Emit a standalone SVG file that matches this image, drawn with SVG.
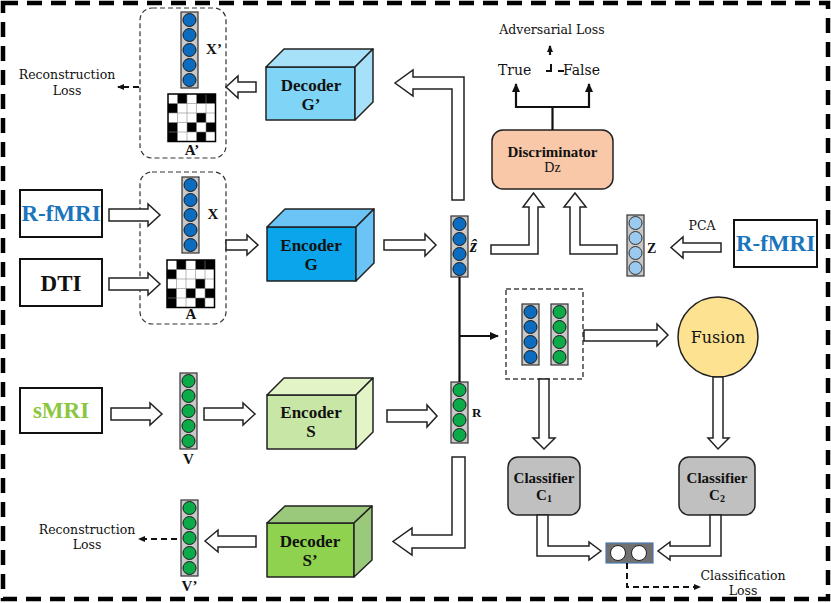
<svg xmlns="http://www.w3.org/2000/svg" width="831" height="603" viewBox="0 0 831 603">
<defs>
<marker id="ah" markerWidth="9" markerHeight="9" refX="8" refY="4.5" orient="auto" markerUnits="userSpaceOnUse"><path d="M0,0.5 L9,4.5 L0,8.5 z" fill="#111"/></marker>
<marker id="ahs" markerWidth="7" markerHeight="7" refX="6" refY="3.5" orient="auto" markerUnits="userSpaceOnUse"><path d="M0,0.5 L7,3.5 L0,6.5 z" fill="#111"/></marker>
<g id="mat">
<rect x="0" y="0" width="47.5" height="47.5" fill="#fff"/>
<g fill="#000">
<rect x="9.5" y="0" width="9.5" height="9.5"/><rect x="28.5" y="0" width="9.5" height="9.5"/><rect x="38" y="0" width="9.5" height="9.5"/>
<rect x="0" y="9.5" width="9.5" height="9.5"/>
<rect x="28.5" y="19" width="9.5" height="9.5"/>
<rect x="0" y="28.5" width="9.5" height="9.5"/><rect x="19" y="28.5" width="9.5" height="9.5"/><rect x="38" y="28.5" width="9.5" height="9.5"/>
<rect x="0" y="38" width="9.5" height="9.5"/><rect x="28.5" y="38" width="9.5" height="9.5"/>
</g>
<path d="M9.5,0V47.5M19,0V47.5M28.5,0V47.5M38,0V47.5M0,9.5H47.5M0,19H47.5M0,28.5H47.5M0,38H47.5" stroke="#888" stroke-width="0.6"/>
<rect x="0" y="0" width="47.5" height="47.5" fill="none" stroke="#000" stroke-width="1.5"/>
</g>
</defs>
<style>
.hollow{fill:#fff;stroke:#222;stroke-width:1.5}
.col{fill:#c8c8c8;stroke:#333;stroke-width:1.2}
.cb{fill:#0b6cc0;stroke:#1a1a1a;stroke-width:1}
.cg{fill:#0aab48;stroke:#1a1a1a;stroke-width:1}
.cl{fill:#9ccaee;stroke:#333;stroke-width:1}
.lbl{font-family:"Liberation Serif",serif;font-weight:bold;font-size:17px;text-anchor:middle;fill:#111}
.reg{font-family:"DejaVu Serif",serif;font-size:12.5px;fill:#111;text-anchor:middle}
.tag{font-family:"Liberation Serif",serif;font-weight:bold;font-size:15px;fill:#111;text-anchor:middle}
.src{font-family:"Liberation Serif",serif;font-weight:bold;font-size:23px;text-anchor:middle}
.dbox{fill:none;stroke:#333;stroke-width:1.2;stroke-dasharray:5 3}
.edge{fill:none;stroke:#111;stroke-width:2.2}
.dash{fill:none;stroke:#111;stroke-width:2;stroke-dasharray:6 4}
.cube{stroke:#222;stroke-width:1.5;stroke-linejoin:round}
</style>

<rect x="3" y="3" width="825" height="596" fill="none" stroke="#000" stroke-width="4.5" stroke-dasharray="15 9"/>

<g id="recloss-top">
<text class="reg" x="67" y="79">Reconstruction</text>
<text class="reg" x="67" y="95">Loss</text>
</g>

<g id="recon-box">
<rect class="dbox" x="140" y="8" width="86" height="150" rx="12"/>
<rect class="col" x="181" y="12" width="17" height="76"/>
<circle class="cb" cx="189.5" cy="20" r="6.5"/><circle class="cb" cx="189.5" cy="35" r="6.5"/><circle class="cb" cx="189.5" cy="50" r="6.5"/><circle class="cb" cx="189.5" cy="65" r="6.5"/><circle class="cb" cx="189.5" cy="80" r="6.5"/>
<text class="tag" x="214" y="54">X’</text>
<use href="#mat" x="168" y="94"/>
<text class="tag" x="192" y="155">A’</text>
</g>

<g id="input-box">
<rect class="dbox" x="140" y="172" width="86" height="152" rx="12"/>
<rect class="col" x="182" y="177" width="17" height="76"/>
<circle class="cb" cx="190.5" cy="185" r="6.5"/><circle class="cb" cx="190.5" cy="200" r="6.5"/><circle class="cb" cx="190.5" cy="215" r="6.5"/><circle class="cb" cx="190.5" cy="230" r="6.5"/><circle class="cb" cx="190.5" cy="245" r="6.5"/>
<text class="tag" x="213" y="219">X</text>
<use href="#mat" x="167" y="260"/>
<text class="tag" x="191" y="319">A</text>
</g>

<g id="rfmri-left">
<rect x="20" y="190" width="82" height="47" fill="#fff" stroke="#111" stroke-width="2"/>
<text class="src" x="61" y="221" fill="#1b75bc">R-fMRI</text>
</g>
<g id="dti">
<rect x="20" y="259" width="82" height="47" fill="#fff" stroke="#111" stroke-width="2"/>
<text class="src" x="61" y="291" fill="#111">DTI</text>
</g>
<g id="smri">
<rect x="20" y="388" width="82" height="45" fill="#fff" stroke="#111" stroke-width="2"/>
<text class="src" x="61" y="418" fill="#8cc63f">sMRI</text>
</g>

<g id="decoder-g">
<rect class="cube" x="266" y="67" width="89" height="53" fill="#80d4f6"/>
<path class="cube" d="M266,67 L284,49 L373,49 L355,67 Z" fill="#a6e1f9"/>
<path class="cube" d="M355,67 L373,49 L373,102 L355,120 Z" fill="#a6e1f9"/>
<text class="lbl" x="311" y="91">Decoder</text>
<text class="lbl" x="311" y="110">G’</text>
</g>

<g id="encoder-g">
<rect class="cube" x="267" y="227" width="89" height="54" fill="#0aa5ea"/>
<path class="cube" d="M267,227 L285,209 L374,209 L356,227 Z" fill="#6cc3f5"/>
<path class="cube" d="M356,227 L374,209 L374,263 L356,281 Z" fill="#6cc3f5"/>
<text class="lbl" x="311" y="251">Encoder</text>
<text class="lbl" x="311" y="270">G</text>
</g>

<g id="encoder-s">
<rect class="cube" x="267" y="395" width="89" height="54" fill="#c8e6a5"/>
<path class="cube" d="M267,395 L284,378 L373,378 L356,395 Z" fill="#e3f5c6"/>
<path class="cube" d="M356,395 L373,378 L373,432 L356,449 Z" fill="#e3f5c6"/>
<text class="lbl" x="311" y="418">Encoder</text>
<text class="lbl" x="311" y="437">S</text>
</g>

<g id="decoder-s">
<rect class="cube" x="267" y="523" width="87" height="54" fill="#8fd24f"/>
<path class="cube" d="M267,523 L285,506 L372,506 L354,523 Z" fill="#9bc97c"/>
<path class="cube" d="M354,523 L372,506 L372,560 L354,577 Z" fill="#9bc97c"/>
<text class="lbl" x="310" y="547">Decoder</text>
<text class="lbl" x="310" y="566">S’</text>
</g>

<g id="v">
<rect class="col" x="180" y="373" width="17" height="76"/>
<circle class="cg" cx="188.5" cy="381" r="6.5"/><circle class="cg" cx="188.5" cy="396" r="6.5"/><circle class="cg" cx="188.5" cy="411" r="6.5"/><circle class="cg" cx="188.5" cy="426" r="6.5"/><circle class="cg" cx="188.5" cy="441" r="6.5"/>
<text class="tag" x="188.5" y="464" font-size="13">V</text>
</g>

<g id="v-prime">
<rect class="col" x="181" y="500" width="17" height="76"/>
<circle class="cg" cx="189.5" cy="508" r="6.5"/><circle class="cg" cx="189.5" cy="523" r="6.5"/><circle class="cg" cx="189.5" cy="538" r="6.5"/><circle class="cg" cx="189.5" cy="553" r="6.5"/><circle class="cg" cx="189.5" cy="568" r="6.5"/>
<text class="tag" x="189.5" y="591" font-size="13">V’</text>
</g>

<g id="recloss-bottom">
<text class="reg" x="87" y="534">Reconstruction</text>
<text class="reg" x="87" y="549">Loss</text>
</g>

<g id="z-hat">
<rect class="col" x="451" y="216" width="17" height="61"/>
<circle class="cb" cx="459.5" cy="224" r="6.5"/><circle class="cb" cx="459.5" cy="239" r="6.5"/><circle class="cb" cx="459.5" cy="254" r="6.5"/><circle class="cb" cx="459.5" cy="269" r="6.5"/>
<text x="470" y="252" font-family="Liberation Serif, serif" font-weight="bold" font-style="italic" font-size="18" fill="#111">ẑ</text>
</g>

<g id="r">
<rect class="col" x="451" y="382" width="17" height="61"/>
<circle class="cg" cx="459.5" cy="390" r="6.5"/><circle class="cg" cx="459.5" cy="405" r="6.5"/><circle class="cg" cx="459.5" cy="420" r="6.5"/><circle class="cg" cx="459.5" cy="435" r="6.5"/>
<text x="472" y="417" font-family="Liberation Serif, serif" font-weight="bold" font-size="13" fill="#111">R</text>
</g>

<g id="z">
<rect class="col" x="627" y="215" width="17" height="61"/>
<circle class="cl" cx="635.5" cy="223" r="6.5"/><circle class="cl" cx="635.5" cy="238" r="6.5"/><circle class="cl" cx="635.5" cy="253" r="6.5"/><circle class="cl" cx="635.5" cy="268" r="6.5"/>
<text x="647" y="253" font-family="Liberation Serif, serif" font-weight="bold" font-size="14" fill="#111">Z</text>
</g>

<g id="rfmri-right">
<rect x="734" y="220" width="83" height="47" fill="#fff" stroke="#111" stroke-width="2"/>
<text class="src" x="775.5" y="251" fill="#1b75bc">R-fMRI</text>
</g>
<text class="reg" x="702" y="230" font-size="14">PCA</text>

<g id="discriminator">
<rect x="492" y="130" width="121" height="59" rx="11" fill="#f8c8a8" stroke="#222" stroke-width="1.5"/>
<text class="tag" x="552.5" y="157">Discriminator</text>
<text x="552.5" y="172" font-family="Liberation Serif, serif" font-size="14" text-anchor="middle" fill="#111">Dz</text>
</g>

<g id="adversarial">
<text class="reg" x="552" y="34">Adversarial  Loss</text>
<text x="498" y="75" font-family="DejaVu Serif, serif" font-size="14" fill="#111">True</text>
<text x="563" y="75" font-family="DejaVu Serif, serif" font-size="14" fill="#111">False</text>
</g>

<g id="concat">
<rect x="506" y="289" width="77" height="90" fill="none" stroke="#444" stroke-width="1.5" stroke-dasharray="5 3"/>
<rect class="col" x="522" y="304" width="17" height="61"/>
<circle class="cb" cx="530.5" cy="312" r="6.5"/><circle class="cb" cx="530.5" cy="327" r="6.5"/><circle class="cb" cx="530.5" cy="342" r="6.5"/><circle class="cb" cx="530.5" cy="357" r="6.5"/>
<rect class="col" x="551" y="304" width="17" height="61"/>
<circle class="cg" cx="559.5" cy="312" r="6.5"/><circle class="cg" cx="559.5" cy="327" r="6.5"/><circle class="cg" cx="559.5" cy="342" r="6.5"/><circle class="cg" cx="559.5" cy="357" r="6.5"/>
</g>

<g id="fusion">
<circle cx="718" cy="337" r="40" fill="#fde391" stroke="#222" stroke-width="1.5"/>
<text x="718" y="343" font-family="DejaVu Serif, serif" font-size="16" text-anchor="middle" fill="#111">Fusion</text>
</g>

<g id="classifier-1">
<rect x="508" y="457" width="72" height="58" rx="10" fill="#c0c0c0" stroke="#222" stroke-width="1.5"/>
<text class="tag" x="544" y="483">Classifier</text>
<text class="tag" x="544" y="500">C<tspan font-size="10" dy="2">1</tspan></text>
</g>
<g id="classifier-2">
<rect x="679" y="457" width="76" height="58" rx="10" fill="#c0c0c0" stroke="#222" stroke-width="1.5"/>
<text class="tag" x="717" y="483">Classifier</text>
<text class="tag" x="717" y="500">C<tspan font-size="10" dy="2">2</tspan></text>
</g>

<g id="output">
<rect x="606" y="543" width="47" height="20" fill="#707070" stroke="#4a7ab0" stroke-width="1.2"/>
<circle cx="618" cy="553" r="7.5" fill="#fff" stroke="#222" stroke-width="1"/>
<circle cx="639" cy="553" r="7.5" fill="#fff" stroke="#222" stroke-width="1"/>
</g>
<g id="classloss">
<text class="reg" x="743" y="580">Classification</text>
<text class="reg" x="743" y="595">Loss</text>
</g>

<g id="connectors">
<polygon class="hollow" points="109,209 148,209 148,204 160,215 148,226 148,221 109,221"/>
<polygon class="hollow" points="109,278 148,278 148,273 160,284 148,295 148,290 109,290"/>
<polygon class="hollow" points="226,240 247,240 247,235 258,245 247,255 247,250 226,250"/>
<polygon class="hollow" points="384,240 425,240 425,234 436,245 425,256 425,250 384,250"/>
<polygon class="hollow" points="256,82 238,82 238,76 226,87 238,98 238,92 256,92"/>
<polygon class="hollow" points="111,408 150,408 150,403 162,414 150,425 150,420 111,420"/>
<polygon class="hollow" points="204,408 243,408 243,403 255,414 243,425 243,420 204,420"/>
<polygon class="hollow" points="387,410 427,410 427,405 437,416 427,427 427,422 387,422"/>
<polygon class="hollow" points="256,536 218,536 218,530 205,541 218,552 218,547 256,547"/>
<polygon class="hollow" points="721,243 683,243 683,237 671,247.5 683,258 683,252 721,252"/>
<polygon class="hollow" points="584,330 657,330 657,324 668,335 657,346 657,341 584,341"/>
<polygon class="hollow" points="539,379 539,438 533,438 544,449 555,438 549,438 549,379"/>
<polygon class="hollow" points="713,377 713,438 708,438 718,449 729,438 723,438 723,377"/>
<polygon class="hollow" points="452,200 452,89 413,89 413,96 395,83 413,70 413,77 464,77 464,200"/>
<polygon class="hollow" points="452,457 452,535 412,535 412,528 393,541.5 412,555 412,548 465,548 465,457"/>
<polygon class="hollow" points="491,245 529,245 529,207 523,207 533.5,193 544,207 538,207 538,254 491,254"/>
<polygon class="hollow" points="617,245 580,245 580,207 586,207 575,193 564,207 570,207 570,254 617,254"/>
<polygon class="hollow" points="537,515 537,556 589,556 589,560 601,551 589,542 589,546 548,546 548,515"/>
<polygon class="hollow" points="721,515 721,556 670,556 670,560 658,551 670,542 670,546 710,546 710,515"/>
<path class="edge" d="M459.5,277 V382"/>
<path class="edge" d="M459.5,336 H498" marker-end="url(#ah)"/>
<path class="edge" d="M552.5,130 V107 M516,107 H589"/>
<path class="edge" d="M516,108 V84" marker-end="url(#ah)"/>
<path class="edge" d="M589,108 V84" marker-end="url(#ah)"/>
<path class="edge" d="M550,55 V46" marker-end="url(#ahs)"/>
<path d="M546,71 H551 V64 M558,71 H564" fill="none" stroke="#111" stroke-width="2"/>
<path class="dash" d="M139,87 H118" marker-end="url(#ahs)"/>
<path class="dash" d="M177,539 H139" marker-end="url(#ahs)"/>
<path class="dash" d="M627,563 V587 H700" marker-end="url(#ahs)"/>
</g>
</svg>
